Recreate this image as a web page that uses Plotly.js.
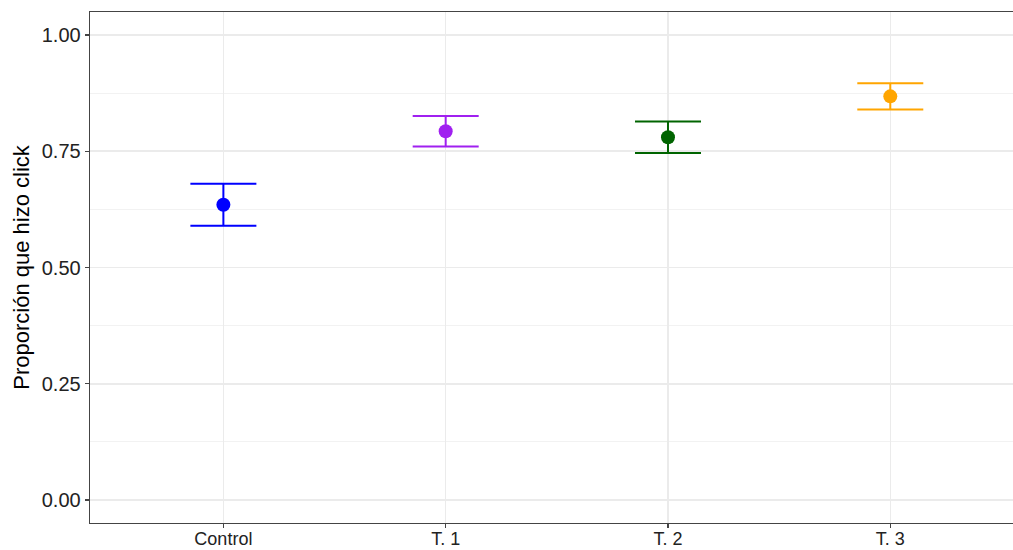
<!DOCTYPE html>
<html>
<head>
<meta charset="utf-8">
<script src="https://cdn.plot.ly/plotly-3.0.1.min.js"></script>
<style>
  html, body { margin: 0; padding: 0; background: #fff; }
  #chart { width: 1013px; height: 550px; }
</style>
</head>
<body>
<div id="chart"></div>
<script>
// Proportion of users who clicked, per group, with error bars
const categories = ['Control', 'T. 1', 'T. 2', 'T. 3'];
const proportions = [0.635, 0.793, 0.780, 0.868];
const errors = [0.045, 0.033, 0.034, 0.028];
const groupColors = ['#0000FF', '#A020F0', '#006400', '#FFA500'];

const traces = categories.map((cat, i) => ({
  type: 'scatter',
  mode: 'markers',
  x: [cat],
  y: [proportions[i]],
  error_y: {
    type: 'data',
    array: [errors[i]],
    visible: true,
    color: groupColors[i],
    thickness: 2,
    width: 33
  },
  marker: { color: groupColors[i], size: 14, line: { width: 0 } },
  showlegend: false,
  hoverinfo: 'x+y'
}));

const layout = {
  width: 1013,
  height: 550,
  margin: { l: 90, r: 0, t: 12, b: 27 },
  paper_bgcolor: '#ffffff',
  plot_bgcolor: '#ffffff',
  font: { family: 'Liberation Sans, Arial, sans-serif', color: '#333333' },
  showlegend: false,
  xaxis: {
    type: 'category',
    categoryorder: 'array',
    categoryarray: categories,
    range: [-0.6, 3.552],
    showgrid: true,
    gridcolor: '#EBEBEB',
    gridwidth: 1.5,
    zeroline: false,
    showline: true,
    mirror: true,
    linecolor: '#444444',
    linewidth: 1.3,
    ticks: 'outside',
    ticklen: 4,
    tickwidth: 1.3,
    tickcolor: '#444444',
    ticklabelstandoff: -5,
    tickfont: { size: 18, color: '#222222' }
  },
  yaxis: {
    range: [-0.0494, 1.0494],
    tickvals: [0, 0.25, 0.5, 0.75, 1],
    ticktext: ['0.00', '0.25', '0.50', '0.75', '1.00'],
    showgrid: true,
    gridcolor: '#EBEBEB',
    gridwidth: 1.5,
    minor: {
      tickvals: [0.125, 0.375, 0.625, 0.875],
      showgrid: true,
      gridcolor: '#F2F2F2',
      gridwidth: 1,
      ticks: ''
    },
    zeroline: false,
    showline: true,
    linecolor: '#444444',
    linewidth: 1.3,
    ticks: 'outside',
    ticklen: 4,
    tickwidth: 1.3,
    tickcolor: '#444444',
    tickfont: { size: 20, color: '#222222' },
    title: {
      text: 'Proporción que hizo click',
      font: { size: 22, color: '#000000' },
      standoff: 6
    }
  }
};

Plotly.newPlot('chart', traces, layout, { displayModeBar: false, staticPlot: true });
</script>
</body>
</html>
